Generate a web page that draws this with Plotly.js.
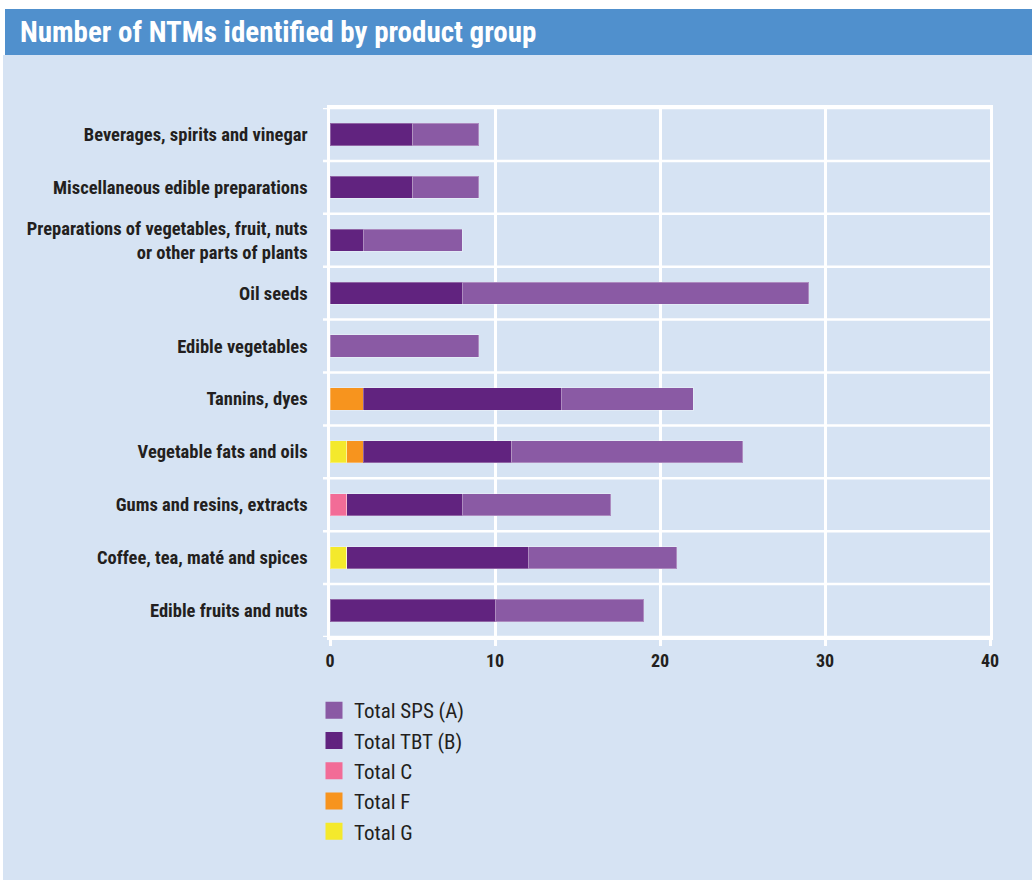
<!DOCTYPE html>
<html>
<head>
<meta charset="utf-8">
<script src="https://cdn.plot.ly/plotly-3.0.1.min.js"></script>
<style>
html,body{margin:0;padding:0;background:#ffffff;}
#chart{width:1032px;height:882px;}
</style>
</head>
<body>
<div id="chart"></div>
<script>
// Categories, top to bottom
const categories = [
  "Beverages, spirits and vinegar",
  "Miscellaneous edible preparations",
  "Preparations of vegetables, fruit, nuts<br>or other parts of plants",
  "Oil seeds",
  "Edible vegetables",
  "Tannins, dyes",
  "Vegetable fats and oils",
  "Gums and resins, extracts",
  "Coffee, tea, maté and spices",
  "Edible fruits and nuts"
];
const totalG   = [0, 0, 0, 0, 0, 0, 1, 0, 1, 0];
const totalF   = [0, 0, 0, 0, 0, 2, 1, 0, 0, 0];
const totalC   = [0, 0, 0, 0, 0, 0, 0, 1, 0, 0];
const totalTBT = [5, 5, 2, 8, 0, 12, 9, 7, 11, 10];
const totalSPS = [4, 4, 6, 21, 9, 8, 14, 9, 9, 9];
const xTicks = [0, 10, 20, 30, 40];

const FONT = "'Liberation Sans Narrow', 'Roboto Condensed', 'DejaVu Sans Condensed', sans-serif";
const W = 1032, H = 882;
const L = 330, R = 42, T = 108, B = 245;
const PW = W - L - R, PH = H - T - B;
const px = v => (v - L) / PW;
const py = v => (H - B - v) / PH;

const seriesDefs = [
  {name: "Total G", vals: totalG, color: "#f4e92c"},
  {name: "Total F", vals: totalF, color: "#f7941e"},
  {name: "Total C", vals: totalC, color: "#f26c97"},
  {name: "Total TBT (B)", vals: totalTBT, color: "#61237f"},
  {name: "Total SPS (A)", vals: totalSPS, color: "#8a5aa4"}
];

const traces = seriesDefs.map(s => ({
  type: "bar",
  orientation: "h",
  name: s.name,
  legendgroup: s.name,
  showlegend: false,
  y: categories,
  x: s.vals,
  marker: {color: s.color, line: {color: "rgba(255,255,255,0.3)", width: 1}},
  hoverinfo: "x+name"
}));
// legend-only entries (larger swatches), no drawn bars
seriesDefs.forEach(s => traces.push({
  type: "bar",
  orientation: "h",
  name: s.name,
  legendgroup: s.name,
  showlegend: true,
  y: [categories[0]],
  x: [null],
  marker: {color: s.color, line: {color: s.color, width: 5}},
  hoverinfo: "skip"
}));

const shapes = [
  {type: "rect", xref: "paper", yref: "paper", layer: "below",
   x0: px(3), x1: px(1040), y0: py(880), y1: py(55),
   fillcolor: "#d6e3f3", line: {width: 0}},
  {type: "rect", xref: "paper", yref: "paper", layer: "below",
   x0: px(5), x1: px(1040), y0: py(55), y1: py(9),
   fillcolor: "#5090cd", line: {width: 0}}
];
for (let i = 0; i <= categories.length; i++) {
  shapes.push({type: "line", xref: "paper", yref: "y", layer: "below",
    x0: px(323), x1: 1, y0: i - 0.5, y1: i - 0.5,
    line: {color: "#ffffff", width: 2.5}});
}

const layout = {
  width: W, height: H,
  margin: {l: L, r: R, t: T, b: B},
  paper_bgcolor: "#ffffff",
  plot_bgcolor: "rgba(0,0,0,0)",
  barmode: "stack",
  bargap: 0.58,
  font: {family: FONT, color: "#231f20"},
  title: {
    text: "<b>Number of NTMs identified by product group</b>",
    font: {family: FONT, size: 29, color: "#ffffff"},
    xref: "container", yref: "container",
    x: 20 / W, xanchor: "left", y: 1 - 32 / H, yanchor: "middle"
  },
  xaxis: {
    range: [0, 40],
    tickvals: xTicks,
    ticktext: xTicks.map(v => "<b>" + v + "</b>"),
    showgrid: true, gridcolor: "#ffffff", gridwidth: 2.5,
    zeroline: false,
    showline: true, linecolor: "#ffffff", linewidth: 2.5, mirror: true,
    ticks: "outside", ticklen: 6, tickwidth: 2.5, tickcolor: "#ffffff",
    tickfont: {family: FONT, size: 18, color: "#231f20"},
    fixedrange: true
  },
  yaxis: {
    type: "category",
    categoryorder: "array",
    categoryarray: categories,
    range: [categories.length - 0.5, -0.5],
    tickvals: categories,
    ticktext: categories.map(c => "<b>" + c + "</b>"),
    showgrid: false, zeroline: false,
    showline: true, linecolor: "#ffffff", linewidth: 2.5, mirror: true,
    ticks: "",
    ticklabelstandoff: 16,
    tickfont: {family: FONT, size: 18.5, color: "#231f20"},
    fixedrange: true
  },
  showlegend: true,
  legend: {
    traceorder: "reversed",
    orientation: "v",
    x: px(314), xanchor: "left",
    y: py(690), yanchor: "top",
    bgcolor: "rgba(0,0,0,0)",
    font: {family: FONT, size: 21, color: "#231f20"}
  },
  shapes: shapes
};

Plotly.newPlot("chart", traces, layout, {displayModeBar: false});
</script>
</body>
</html>
